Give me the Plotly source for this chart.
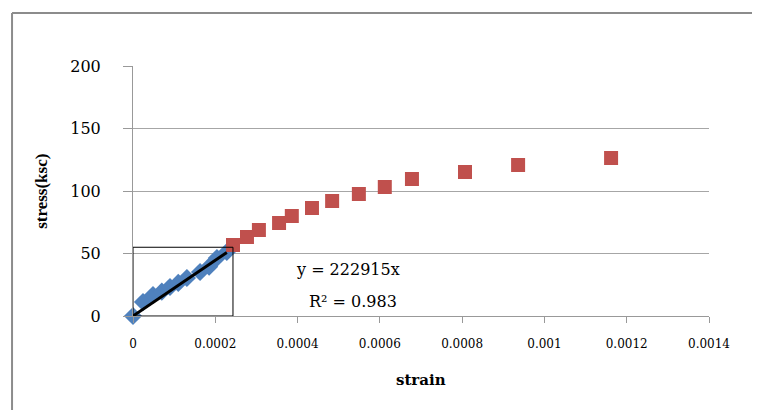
import plotly.graph_objects as go

# Data
linear_strain = [0, 0.0000243, 0.0000486, 0.0000700, 0.0000899, 0.000110, 0.000131, 0.000163, 0.000185, 0.000204, 0.000228]
linear_stress = [0, 11.2, 16.8, 19.5, 23.2, 26.5, 30.4, 35.2, 39.5, 46.4, 51.2]

plastic_strain = [0.000243, 0.000277, 0.000306, 0.000355, 0.000386, 0.000435, 0.000484,
                  0.000549, 0.000612, 0.000678, 0.000807, 0.000936, 0.001162]
plastic_stress = [56.8, 63.2, 68.8, 74.4, 80.0, 86.4, 92.0, 97.6, 103.2, 109.6, 115.2, 120.8, 126.4]

slope = 222915
r2 = 0.983
trend_x = [0, 0.000228]

x_tickvals = [0, 0.0002, 0.0004, 0.0006, 0.0008, 0.001, 0.0012, 0.0014]
x_ticktext = ["0", "0.0002", "0.0004", "0.0006", "0.0008", "0.001", "0.0012", "0.0014"]
y_tickvals = [0, 50, 100, 150, 200]

box_x = [0, 0.000243]
box_y = [0, 55]

serif = "DejaVu Serif, serif"
times = "Liberation Serif, Times New Roman, serif"

fig = go.Figure()
fig.add_trace(go.Scatter(
    x=linear_strain, y=linear_stress, mode="markers",
    marker=dict(symbol="diamond", size=14, color="#4F81BD"),
    cliponaxis=False, showlegend=False))
fig.add_trace(go.Scatter(
    x=plastic_strain, y=plastic_stress, mode="markers",
    marker=dict(symbol="square", size=14, color="#C0504D"),
    cliponaxis=False, showlegend=False))
fig.add_trace(go.Scatter(
    x=trend_x, y=[slope * v for v in trend_x], mode="lines",
    line=dict(color="black", width=3), showlegend=False))

fig.add_shape(type="rect", xref="x", yref="y", x0=box_x[0], x1=box_x[1], y0=box_y[0], y1=box_y[1],
              line=dict(color="black", width=1), layer="above")

# outer chart frame
fig.add_shape(type="line", xref="paper", yref="paper", x0=-0.21, x1=1.1, y0=1.212, y1=1.212,
              line=dict(color="#8c8c8c", width=2))
fig.add_shape(type="line", xref="paper", yref="paper", x0=-0.21, x1=-0.21, y0=1.212, y1=-0.4,
              line=dict(color="#8c8c8c", width=2))

fig.add_annotation(x=0.000523, y=37.5, xref="x", yref="y", text=f"y = {slope}x", showarrow=False,
                   xanchor="center", yanchor="middle",
                   font=dict(family=serif, size=16, color="black"))
fig.add_annotation(x=0.000535, y=11.5, xref="x", yref="y", text=f"R² = {r2}", showarrow=False,
                   xanchor="center", yanchor="middle",
                   font=dict(family=serif, size=16, color="black"))

fig.add_annotation(x=0.5, y=-0.256, xref="paper", yref="paper", text="<b>strain</b>", showarrow=False,
                   xanchor="center", yanchor="middle",
                   font=dict(family=serif, size=15, color="black"))
fig.add_annotation(x=-0.16, y=0.5, xref="paper", yref="paper", text="<b>stress(ksc)</b>", showarrow=False,
                   xanchor="center", yanchor="middle",
                   textangle=-90, font=dict(family=times, size=17, color="black"))

fig.update_layout(
    width=752, height=402,
    margin=dict(l=125, r=51, t=58, b=94),
    paper_bgcolor="white", plot_bgcolor="white",
    xaxis=dict(range=[0, 0.0014], tickvals=x_tickvals, ticktext=x_ticktext, automargin=False,
               showgrid=False, zeroline=False, showline=True, linecolor="#999999", linewidth=1,
               ticks="outside", ticklen=6, tickcolor="#999999", ticklabelstandoff=11,
               tickfont=dict(family=serif, size=12, color="black")),
    yaxis=dict(range=[0, 200], tickvals=y_tickvals, automargin=False,
               showgrid=True, gridcolor="#a6a6a6", gridwidth=1, zeroline=False,
               showline=True, linecolor="#999999", linewidth=1,
               ticks="outside", ticklen=9, tickcolor="#999999", ticklabelstandoff=19,
               tickfont=dict(family=serif, size=16, color="black")),
)

fig.write_html("out.html", config={"displayModeBar": False})
